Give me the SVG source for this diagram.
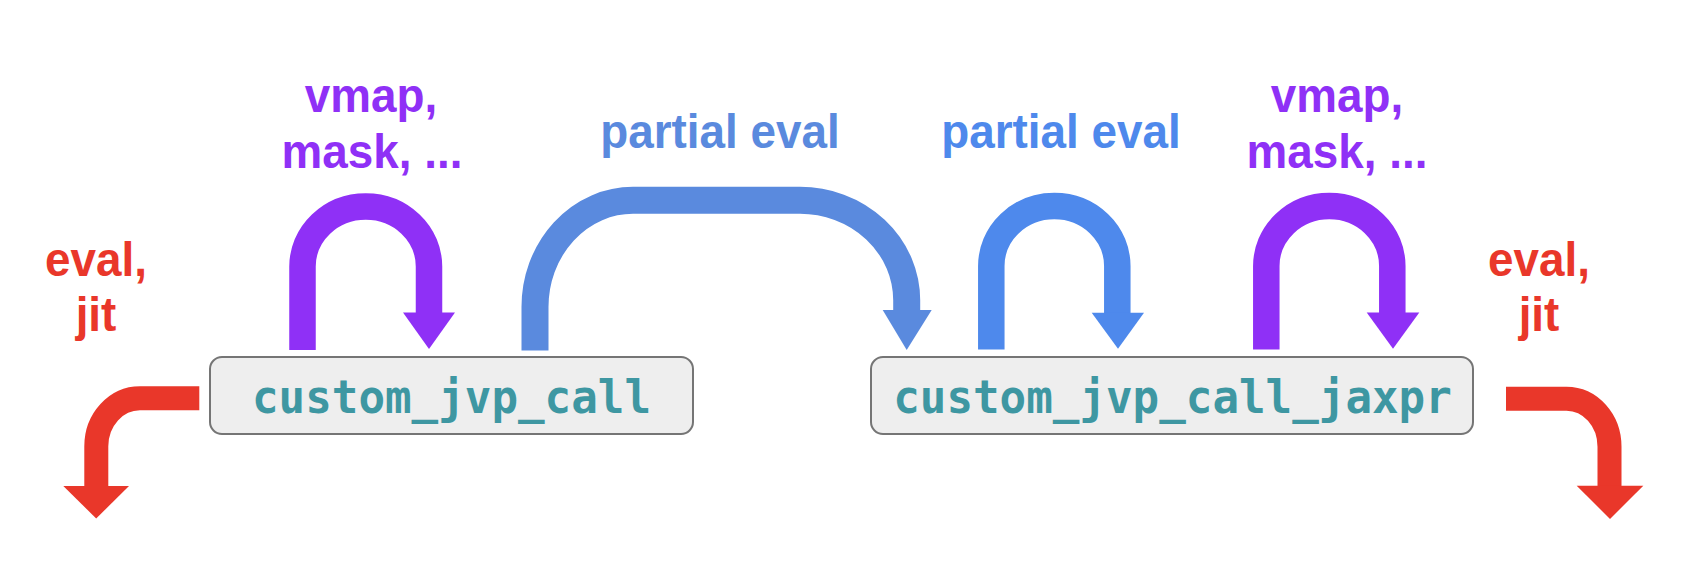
<svg xmlns="http://www.w3.org/2000/svg" width="1696" height="574" viewBox="0 0 1696 574">
<style>
.lbl{font-family:"Liberation Sans",Arial,sans-serif;font-weight:bold;font-size:48px;text-anchor:middle}
.red{fill:#e9372a}
.pur{fill:#8f30f6}
.blu1{fill:#5a8ade}
.blu2{fill:#4e89ec}
.box{fill:#eeeeee;stroke:#757575;stroke-width:2}
.code{font-family:"DejaVu Sans Mono","Liberation Mono",monospace;font-weight:bold;font-size:47px;fill:#3e97a2;text-anchor:middle}
.sp{fill:none;stroke-linecap:butt}
</style>
<rect width="1696" height="574" fill="#ffffff"/>
<g id="connectors">
  <g id="purple-left">
    <path class="sp" d="M302.5 350 V266.5 A63.25 60 0 0 1 429 266.5 V313" stroke="#8f30f6" stroke-width="26.5"/>
    <polygon class="pur" points="403,312.5 455,312.5 429,349"/>
  </g>
  <g id="blue-big">
    <path class="sp" d="M535 350.5 V307 A98 106.7 0 0 1 633 200.3 H800 A106.7 100 0 0 1 906.7 300.3 V311" stroke="#5a8ade" stroke-width="27"/>
    <polygon class="blu1" points="882.7,310 931.7,310 906.7,350"/>
  </g>
  <g id="blue-small">
    <path class="sp" d="M991.3 349.5 V266 A63 60 0 0 1 1117.3 266 V313.5" stroke="#4e89ec" stroke-width="26.5"/>
    <polygon class="blu2" points="1091.7,312.7 1144,312.7 1118,348.7"/>
  </g>
  <g id="purple-right">
    <path class="sp" d="M1266.3 349.5 V266 A63 60 0 0 1 1392.3 266 V313.5" stroke="#8f30f6" stroke-width="26.5"/>
    <polygon class="pur" points="1366.7,312.5 1419.3,312.5 1393,348.7"/>
  </g>
  <g id="red-left">
    <path class="sp" d="M199.3 398.3 H140 A43.7 48 0 0 0 96.3 446.3 V487" stroke="#e9372a" stroke-width="24"/>
    <polygon class="red" points="63.3,486 129,486 96.2,518.5"/>
  </g>
  <g id="red-right">
    <path class="sp" d="M1506 398.7 H1566.5 A43 48 0 0 1 1609.5 446.7 V487" stroke="#e9372a" stroke-width="24"/>
    <polygon class="red" points="1576.7,485.7 1643.3,485.7 1610,519"/>
  </g>
</g>
<g id="node-custom_jvp_call">
  <rect class="box" x="210" y="357" width="483" height="77" rx="12"/>
  <g transform="translate(451.5 413.3) scale(0.94 1)"><text class="code" x="0" y="0">custom_jvp_call</text></g>
</g>
<g id="node-custom_jvp_call_jaxpr">
  <rect class="box" x="871" y="357" width="602" height="77" rx="12"/>
  <g transform="translate(1172.5 413.3) scale(0.94 1)"><text class="code" x="0" y="0">custom_jvp_call_jaxpr</text></g>
</g>
<g id="labels">
  <g transform="translate(96 276) scale(0.955 1)"><text class="lbl red" x="0" y="0">eval,</text></g>
  <g transform="translate(96 331) scale(0.955 1)"><text class="lbl red" x="0" y="0">jit</text></g>
  <g transform="translate(371 112) scale(0.955 1)"><text class="lbl pur" x="0" y="0">vmap,</text></g>
  <g transform="translate(372 167.5) scale(0.955 1)"><text class="lbl pur" x="0" y="0">mask, ...</text></g>
  <g transform="translate(720 148) scale(0.955 1)"><text class="lbl blu1" x="0" y="0">partial eval</text></g>
  <g transform="translate(1061 148) scale(0.955 1)"><text class="lbl blu2" x="0" y="0">partial eval</text></g>
  <g transform="translate(1337 112) scale(0.955 1)"><text class="lbl pur" x="0" y="0">vmap,</text></g>
  <g transform="translate(1337 167.5) scale(0.955 1)"><text class="lbl pur" x="0" y="0">mask, ...</text></g>
  <g transform="translate(1539 276) scale(0.955 1)"><text class="lbl red" x="0" y="0">eval,</text></g>
  <g transform="translate(1539 331) scale(0.955 1)"><text class="lbl red" x="0" y="0">jit</text></g>
</g>
</svg>
